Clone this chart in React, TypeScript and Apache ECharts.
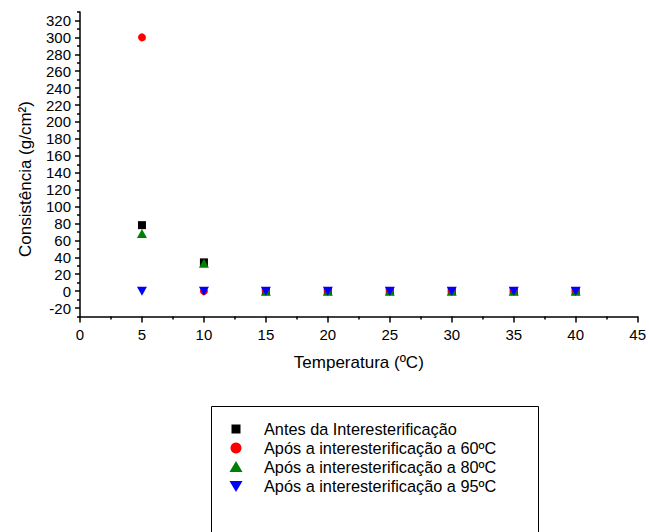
import React, { useEffect, useRef } from "react";
import * as echarts from "echarts";

const temperatures = [5, 10, 15, 20, 25, 30, 35, 40];
const antes = [78, 34, 0, 0, 0, 0, 0, 0];
const apos60 = [300, 0, 0, 0, 0, 0, 0, 0];
const apos80 = [68, 33, 0, 0, 0, 0, 0, 0];
const apos95 = [0, 0, 0, 0, 0, 0, 0, 0];

const seriesNames = [
  "Antes da Interesterificação",
  "Após a interesterificação a 60ºC",
  "Após a interesterificação a 80ºC",
  "Após a interesterificação a 95ºC",
];
const seriesColors = ["#000000", "#ff0000", "#008000", "#0000ff"];
const seriesValues = [antes, apos60, apos80, apos95];

const yMajorTicks = [-20, 0, 20, 40, 60, 80, 100, 120, 140, 160, 180, 200, 220, 240, 260, 280, 300, 320];
const yMinorTicks = [-30, -10, 10, 30, 50, 70, 90, 110, 130, 150, 170, 190, 210, 230, 250, 270, 290, 310, 330];

const FONT = "'Liberation Sans', Arial, Helvetica, sans-serif";

export default function App() {
  const ref = useRef<HTMLDivElement>(null);
  useEffect(() => {
    if (!ref.current) return;
    const chart = echarts.init(ref.current, undefined, { renderer: "svg" });
    const symbols = [
      { symbol: "rect", size: [8, 8], rotate: 0 },
      { symbol: "circle", size: 8, rotate: 0 },
      { symbol: "triangle", size: [10, 9], rotate: 0 },
      { symbol: "triangle", size: [10, 9], rotate: 180 },
    ];
    const legendX = 236;
    const legendY0 = 429;
    const legendDy = 19;
    const legendMarkers: any[] = [];
    seriesNames.forEach((name, i) => {
      const y = legendY0 + i * legendDy;
      const c = seriesColors[i];
      let m: any;
      if (i === 0) m = { type: "rect", shape: { x: legendX - 4.5, y: y - 4.5, width: 9, height: 9 }, style: { fill: c } };
      else if (i === 1) m = { type: "circle", shape: { cx: legendX, cy: y, r: 5.5 }, style: { fill: c } };
      else if (i === 2)
        m = { type: "polygon", shape: { points: [[legendX, y - 6], [legendX + 6.5, y + 5], [legendX - 6.5, y + 5]] }, style: { fill: c } };
      else
        m = { type: "polygon", shape: { points: [[legendX - 6.5, y - 5], [legendX + 6.5, y - 5], [legendX, y + 6]] }, style: { fill: c } };
      legendMarkers.push(m);
      legendMarkers.push({
        type: "text",
        x: 264,
        y: y,
        style: { text: name, fill: "#000", font: `16.3px ${FONT}`, textVerticalAlign: "middle" },
      });
    });

    chart.setOption({
      animation: false,
      backgroundColor: "#ffffff",
      grid: { left: 80, right: 10, top: 12, bottom: 215.5, containLabel: false },
      xAxis: {
        type: "value",
        min: 0,
        max: 45,
        interval: 5,
        name: "Temperatura (ºC)",
        nameLocation: "middle",
        nameGap: 37,
        nameTextStyle: { fontFamily: FONT, fontSize: 17, color: "#000" },
        axisLine: { show: true, onZero: false, lineStyle: { color: "#000", width: 1.5 } },
        axisTick: { show: true, inside: false, length: 6, lineStyle: { color: "#000", width: 1.5 } },
        minorTick: { show: true, splitNumber: 2, length: 3, lineStyle: { color: "#000", width: 1.5 } },
        axisLabel: { fontFamily: FONT, fontSize: 15, color: "#000", margin: 10 },
        splitLine: { show: false },
        minorSplitLine: { show: false },
      },
      yAxis: [
        {
          type: "value",
          min: -30,
          max: 330,
          axisLine: { show: true, onZero: false, lineStyle: { color: "#000", width: 1.5 } },
          axisTick: { show: true, inside: false, length: 5, customValues: yMajorTicks, lineStyle: { color: "#000", width: 1.5 } },
          axisLabel: { fontFamily: FONT, fontSize: 15, color: "#000", margin: 9, customValues: yMajorTicks },
          splitLine: { show: false },
        },
        {
          type: "value",
          min: -30,
          max: 330,
          position: "left",
          offset: 0,
          axisLine: { show: false },
          axisTick: { show: true, inside: false, length: 3, customValues: yMinorTicks, lineStyle: { color: "#000", width: 1.5 } },
          axisLabel: { show: false },
          splitLine: { show: false },
        },
      ],
      series: seriesValues.map((vals, i) => ({
        name: seriesNames[i],
        type: "scatter",
        yAxisIndex: 0,
        symbol: symbols[i].symbol,
        symbolSize: symbols[i].size,
        symbolRotate: symbols[i].rotate,
        itemStyle: { color: seriesColors[i], opacity: 1 },
        data: temperatures.map((t, j) => [t, vals[j]]),
        z: 2 + i,
      })),
      graphic: [
        {
          type: "text",
          x: 25,
          y: 179,
          rotation: Math.PI / 2,
          style: {
            text: "Consistência (g/cm²)",
            fill: "#000",
            font: `17px ${FONT}`,
            textAlign: "center",
            textVerticalAlign: "middle",
          },
        },
        {
          type: "rect",
          shape: { x: 211.5, y: 406.5, width: 327, height: 140 },
          style: { fill: "#fff", stroke: "#000", lineWidth: 1 },
          z: 0,
        },
        ...legendMarkers,
      ],
    });
    return () => chart.dispose();
  }, []);
  return <div ref={ref} style={{ width: 649, height: 532, position: "absolute", left: 0, top: 0 }} />;
}
